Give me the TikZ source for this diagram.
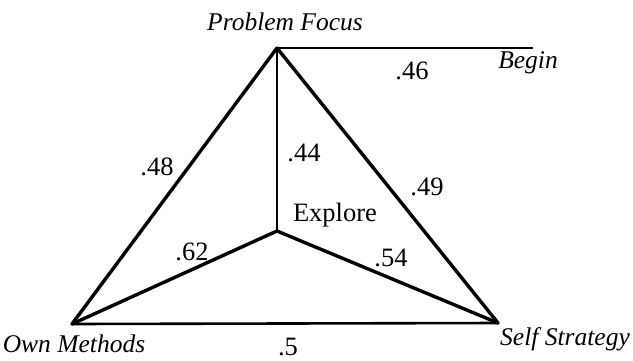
\documentclass[tikz,border=0pt]{standalone}
\usepackage{fontspec}
\setmainfont{Liberation Serif}
\usepackage{tikz}
\usetikzlibrary{positioning,calc}

\tikzset{
  vtx/.style={font=\fontsize{25.5}{28}\selectfont\itshape},
  wt/.style={inner sep=1pt, font=\fontsize{26.5}{29}\selectfont},
  edge/.style={line width=3.4pt, line cap=round, line join=round},
  thinedge/.style={line width=2pt}
}

\begin{document}
\begin{tikzpicture}[x=1pt,y=-1pt,font=\fontsize{26.5}{29}\selectfont]
\useasboundingbox (0,0) rectangle (633,360);
% corners of the triangle
\coordinate (pf) at (277,48);
\coordinate (om) at (72,324);
\coordinate (ss) at (498,323);
\coordinate (ex) at (277,231);
\coordinate (bg) at (533,48);
% names
\node[vtx] (pfl) at (285,22) {Problem Focus};
\node[vtx] (bgl) at (528,63) {Begin};
\node[vtx] (oml) at (74,344) {Own Methods};
\node[vtx] (ssl) at (565,339) {Self Strategy};
\node (exl) at (335,215) {Explore};
% edges
\draw[edge] (om) -- (pf) -- (ss);
\draw[edge] (om) -- (ex) -- (ss);
\draw[thinedge] (pf) -- (ex);
\draw[line width=2.6pt] (om) -- (ss);
\draw[line width=2.4pt] (pf) -- (bg);
% weights
\node[wt] (w1) at (157,167) {.48};
\node[wt] (w2) at (304,153) {.44};
\node[wt] (w3) at (427,187) {.49};
\node[wt] (w4) at (192,252) {.62};
\node[wt] (w5) at (391,258) {.54};
\node[wt] (w6) at (288,347) {.5};
\node[wt] (w7) at (412,71) {.46};
\end{tikzpicture}
\end{document}
